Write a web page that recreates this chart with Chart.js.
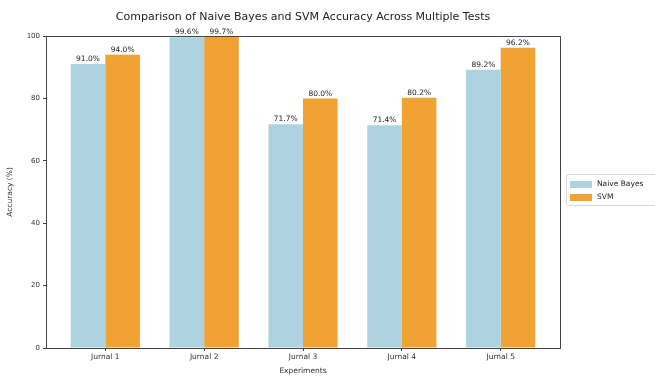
<!DOCTYPE html>
<html>
<head>
<meta charset="utf-8">
<script src="https://cdn.jsdelivr.net/npm/chart.js@4.4.1/dist/chart.umd.min.js"></script>
<style>
  html, body { margin: 0; padding: 0; background: #fff; overflow: hidden; }
  #wrap { width: 655px; height: 376px; }
</style>
</head>
<body>
<div id="wrap"><canvas id="accChart" width="655" height="376"></canvas></div>
<script>
// chart values
const categories = ['Jurnal 1', 'Jurnal 2', 'Jurnal 3', 'Jurnal 4', 'Jurnal 5'];
const naiveBayes = [91.0, 99.6, 71.7, 71.4, 89.2];
const svm = [94.0, 99.7, 80.0, 80.2, 96.2];
const yTicks = [0, 20, 40, 60, 80, 100];

const FONT = "'DejaVu Sans', sans-serif";
const blue = '#acd3df';
const orange = '#f0a232';

// title, frame, value labels and legend drawn by hand
const extras = {
    id: 'extras',
    afterDatasetsDraw(chart) {
        const ctx = chart.ctx;
        ctx.save();
        ctx.font = '7.5px ' + FONT;
        ctx.fillStyle = '#222';
        ctx.textAlign = 'center';
        ctx.textBaseline = 'bottom';
        chart.data.datasets.forEach((ds, di) => {
            chart.getDatasetMeta(di).data.forEach((bar, i) => {
                ctx.fillText(ds.data[i].y.toFixed(1) + '%', bar.x, bar.y - 1);
            });
        });
        ctx.restore();
    },
    afterDraw(chart) {
        const ctx = chart.ctx;
        const a = chart.chartArea;
        ctx.save();
        // frame
        ctx.strokeStyle = '#444';
        ctx.lineWidth = 1;
        ctx.strokeRect(a.left + 0.5, a.top + 0.5, a.right - a.left, a.bottom - a.top);

        // title
        ctx.fillStyle = '#222';
        ctx.font = '11px ' + FONT;
        ctx.textAlign = 'center';
        ctx.textBaseline = 'middle';
        ctx.fillText('Comparison of Naive Bayes and SVM Accuracy Across Multiple Tests', (a.left + a.right) / 2, 17);

        // legend
        const lx = 566, ly = 174;
        ctx.strokeStyle = '#d8d8d8';
        ctx.beginPath();
        ctx.roundRect(lx + 0.5, ly + 0.5, 100, 31, 2);
        ctx.stroke();
        ctx.font = '7.5px ' + FONT;
        ctx.textAlign = 'left';
        chart.data.datasets.forEach((ds, i) => {
            const y = ly + 10 + i * 13;
            ctx.fillStyle = ds.backgroundColor;
            ctx.fillRect(lx + 4, y - 3, 22, 7);
            ctx.fillStyle = '#222';
            ctx.fillText(ds.label, lx + 31, y + 0.5);
        });
        ctx.restore();
    }
};

new Chart(document.getElementById('accChart'), {
    type: 'bar',
    data: {
        datasets: [
            {
                label: 'Naive Bayes',
                data: naiveBayes.map((v, i) => ({ x: i, y: v })),
                backgroundColor: blue
            },
            {
                label: 'SVM',
                data: svm.map((v, i) => ({ x: i, y: v })),
                backgroundColor: orange
            }
        ]
    },
    options: {
        responsive: false,
        animation: false,
        layout: { padding: { top: 36, right: 95, left: 6, bottom: 0 } },
        datasets: { bar: { categoryPercentage: 0.7, barPercentage: 1.0 } },
        plugins: {
            legend: { display: false },
            tooltip: { enabled: false }
        },
        scales: {
            x: {
                type: 'linear',
                offset: false,
                min: -0.6,
                max: 4.6,
                afterBuildTicks: s => { s.ticks = categories.map((c, i) => ({ value: i })); },
                afterFit: s => { s.height = 28; },
                grid: { offset: false, drawOnChartArea: false, drawTicks: true, tickLength: 3, tickColor: '#444' },
                border: { display: true, color: '#444' },
                ticks: {
                    callback: v => categories[v],
                    font: { family: FONT, size: 7.5 },
                    color: '#333',
                    padding: 2,
                    maxRotation: 0
                },
                title: {
                    display: true,
                    text: 'Experiments',
                    font: { family: FONT, size: 7.5 },
                    color: '#333',
                    padding: { top: 0, bottom: 0 }
                }
            },
            y: {
                min: 0,
                max: 100,
                afterBuildTicks: s => { s.ticks = yTicks.map(v => ({ value: v })); },
                afterFit: s => { s.width = 40; },
                grid: { drawOnChartArea: false, drawTicks: true, tickLength: 3, tickColor: '#444' },
                border: { display: true, color: '#444' },
                ticks: {
                    font: { family: FONT, size: 7 },
                    color: '#333',
                    padding: 3
                },
                title: {
                    display: true,
                    text: 'Accuracy (%)',
                    font: { family: FONT, size: 7.5 },
                    color: '#333',
                    padding: { top: 0, bottom: 2 }
                }
            }
        }
    },
    plugins: [extras]
});
</script>
</body>
</html>
